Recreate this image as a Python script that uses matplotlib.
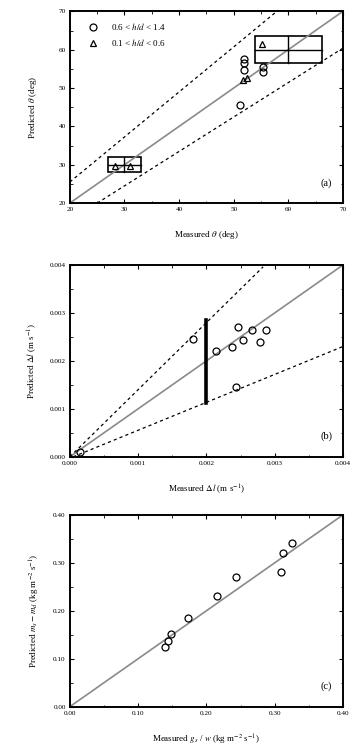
import numpy as np
import matplotlib
matplotlib.use("Agg")
import matplotlib.pyplot as plt
import matplotlib.ticker as mticker
from matplotlib.patches import Rectangle

# ── (a) angle ───────────────────────────────────────────────────────────────
A_CIRC_X = [51.9, 51.9, 51.9, 55.4, 55.4, 51.1]
A_CIRC_Y = [57.7, 56.4, 54.8, 55.5, 54.2, 45.5]
A_TRI_X = [51.7, 52.4, 55.1, 28.3, 31.0]
A_TRI_Y = [52.0, 52.5, 61.4, 29.6, 29.8]
A_UPPER = ([20, 57.9], [25.5, 70])
A_LOWER = ([25, 70], [20, 60.4])
# error boxes: (x centre, y centre, x half-width, y half-height)
A_BOXES = [(30, 30, 3.1, 2.0), (60, 60, 6.1, 3.6)]

# ── (b) length ──────────────────────────────────────────────────────────────
B_X = [0.00015, 0.00181, 0.00214, 0.00238, 0.00246, 0.00253, 0.00267,
       0.00278, 0.00288, 0.00243]
B_Y = [0.00010, 0.00245, 0.00221, 0.00228, 0.00271, 0.00244, 0.00265,
       0.00240, 0.00265, 0.00146]
B_UPPER = ([0.0, 0.00283], [0.0, 0.00396])
B_LOWER = ([0.00005, 0.004], [0.0, 0.0023])
B_BAR = (0.002, 0.00112, 0.00285)

# ── (c) mass flux ───────────────────────────────────────────────────────────
C_X = [0.139, 0.144, 0.1475, 0.173, 0.215, 0.243, 0.310, 0.3115, 0.326]
C_Y = [0.125, 0.138, 0.152, 0.185, 0.230, 0.270, 0.280, 0.320, 0.341]

plt.rcParams.update({
    "font.family": ["Liberation Serif", "DejaVu Serif"],
    "mathtext.fontset": "stix",
    "font.size": 5.5,
    "xtick.labelsize": 5.2,
    "ytick.labelsize": 5.2,
    "xtick.direction": "in",
    "ytick.direction": "in",
    "xtick.top": True,
    "ytick.right": True,
    "axes.linewidth": 1.4,
})

fig = plt.figure(figsize=(3.51, 7.55), dpi=100)
L, W, H = 0.199, 0.778, 0.254
ax_a = fig.add_axes([L, 0.731, W, H])
ax_b = fig.add_axes([L, 0.395, W, H])
ax_c = fig.add_axes([L, 0.064, W, H])

GRAY = "#8a8a8a"
DASH = (0, (2.5, 2.5))
mk = dict(linestyle="none", markerfacecolor="none", markeredgecolor="black",
          markersize=5, markeredgewidth=0.9)


def style(ax, lo, hi, step, fmt, label):
    ax.set_xlim(lo, hi)
    ax.set_ylim(lo, hi)
    ticks = np.arange(lo, hi + step / 2, step)
    ax.set_xticks(ticks)
    ax.set_yticks(ticks)
    ax.xaxis.set_major_formatter(mticker.FormatStrFormatter(fmt))
    ax.yaxis.set_major_formatter(mticker.FormatStrFormatter(fmt))
    ax.xaxis.set_minor_locator(mticker.AutoMinorLocator(2))
    ax.yaxis.set_minor_locator(mticker.AutoMinorLocator(2))
    ax.tick_params(which="major", length=3, width=0.8, pad=3)
    ax.tick_params(which="minor", length=1.8, width=0.6)
    ax.text(0.96, 0.08, label, transform=ax.transAxes, ha="right",
            va="bottom", fontsize=7.5)


# (a)
ax = ax_a
ax.plot([20, 70], [20, 70], color=GRAY, lw=1.2)
ax.plot(*A_UPPER, color="black", lw=0.9, linestyle=DASH)
ax.plot(*A_LOWER, color="black", lw=0.9, linestyle=DASH)
for cx, cy, dx, dy in A_BOXES:
    ax.add_patch(Rectangle((cx - dx, cy - dy), 2 * dx, 2 * dy,
                           fill=False, edgecolor="black", lw=1.2))
    ax.plot([cx - dx, cx + dx], [cy, cy], color="black", lw=1.0)
    ax.plot([cx, cx], [cy - dy, cy + dy], color="black", lw=1.0)
ax.plot(A_CIRC_X, A_CIRC_Y, marker="o", label=r"0.6 < $h/d$ < 1.4", **mk)
ax.plot(A_TRI_X, A_TRI_Y, marker="^", label=r"0.1 < $h/d$ < 0.6", **mk)
ax.legend(loc="upper left", bbox_to_anchor=(0.04, 0.98), frameon=False,
          fontsize=6.5, handletextpad=1.5, borderaxespad=0.3, labelspacing=0.5,
          handlelength=1.2)
style(ax, 20, 70, 10, "%d", "(a)")
ax.set_xlabel(r"Measured $\theta$ (deg)", fontsize=6.5, labelpad=12)
ax.set_ylabel(r"Predicted $\theta$ (deg)", fontsize=6.5, labelpad=14)

# (b)
ax = ax_b
ax.plot([0, 0.004], [0, 0.004], color=GRAY, lw=1.2)
ax.plot(*B_UPPER, color="black", lw=0.9, linestyle=DASH)
ax.plot(*B_LOWER, color="black", lw=0.9, linestyle=DASH)
ax.plot([B_BAR[0], B_BAR[0]], [B_BAR[1], B_BAR[2]], color="black", lw=2.6)
ax.plot(B_X, B_Y, marker="o", **mk)
style(ax, 0.0, 0.004, 0.001, "%.3f", "(b)")
ax.set_xlabel(r"Measured $\Delta l$ (m s$^{-1}$)", fontsize=6.5, labelpad=12)
ax.set_ylabel(r"Predicted $\Delta l$ (m s$^{-1}$)", fontsize=6.5, labelpad=8)

# (c)
ax = ax_c
ax.plot([0, 0.4], [0, 0.4], color=GRAY, lw=1.2)
ax.plot(C_X, C_Y, marker="o", **mk)
style(ax, 0.0, 0.4, 0.1, "%.2f", "(c)")
ax.set_xlabel(r"Measured $g_s$ / $w$ (kg m$^{-2}$ s$^{-1}$)", fontsize=6.5,
              labelpad=12)
ax.set_ylabel(r"Predicted $m_s - m_d$ (kg m$^{-2}$ s$^{-1}$)", fontsize=6.5,
              labelpad=8)

fig.savefig("out.png", dpi=100)
